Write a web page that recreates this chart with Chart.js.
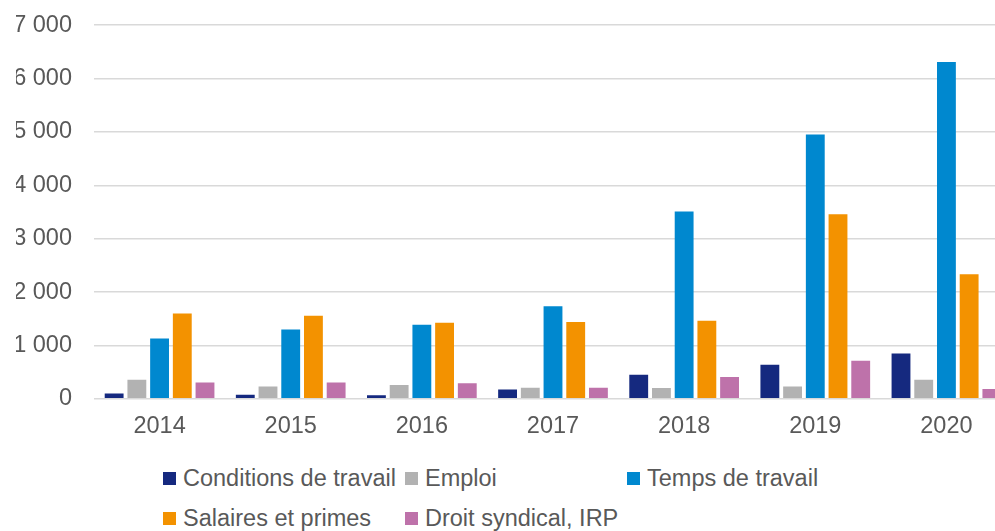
<!DOCTYPE html>
<html>
<head>
<meta charset="utf-8">
<script src="https://cdn.jsdelivr.net/npm/chart.js@4"></script>
<style>
html, body { margin: 0; padding: 0; overflow: hidden; background: #fff; }
#wrap { position: relative; width: 1012px; height: 531px; overflow: hidden; }
#graficoMotifs { display: block; margin-top: -11px; }
#legende {
	position: absolute; top: 458px; left: 163px;
	display: grid; grid-template-columns: 242px 222px auto; grid-auto-rows: 40px;
	font: 23.5px "Liberation Sans", Arial, sans-serif; color: #595959;
}
#legende div { display: flex; align-items: center; white-space: nowrap; }
#legende span { display: inline-block; width: 13px; height: 13px; margin-right: 7px; }
</style>
</head>
<body>
<div id="wrap">
	<canvas id="graficoMotifs" width="1012" height="458"></canvas>
	<div id="legende"></div>
</div>
<script>
var annees = ["2014", "2015", "2016", "2017", "2018", "2019", "2020"];
var conditions = [100, 75, 65, 175, 450, 640, 850];
var emploi = [355, 230, 260, 205, 200, 230, 355];
var tempsTravail = [1130, 1300, 1385, 1735, 3510, 4950, 6310];
var salaires = [1600, 1555, 1425, 1440, 1460, 3455, 2335];
var droitSyndical = [305, 305, 290, 205, 410, 715, 185];

var series = [
	{ label: "Conditions de travail", data: conditions, backgroundColor: "#15297f" },
	{ label: "Emploi", data: emploi, backgroundColor: "#b2b2b2" },
	{ label: "Temps de travail", data: tempsTravail, backgroundColor: "#0088cf" },
	{ label: "Salaires et primes", data: salaires, backgroundColor: "#f39200" },
	{ label: "Droit syndical, IRP", data: droitSyndical, backgroundColor: "#be72aa" }
];

Chart.defaults.font.family = '"Liberation Sans", Arial, sans-serif';
Chart.defaults.font.size = 23.5;
Chart.defaults.color = "#595959";

// separateur de milliers avec espace
function milliers(v) {
	return String(v).replace(/\B(?=(\d{3})+(?!\d))/g, " ");
}

var grafico = new Chart(document.getElementById("graficoMotifs"), {
	type: "bar",
	data: {
		labels: annees,
		datasets: series.map(function (s) {
			return {
				label: s.label,
				data: s.data,
				backgroundColor: s.backgroundColor,
				categoryPercentage: 0.866,
				barPercentage: 0.83
			};
		})
	},
	options: {
		responsive: false,
		animation: false,
		layout: { padding: { top: 0, left: 16, right: 0, bottom: 0 } },
		plugins: {
			legend: { display: false },
			tooltip: { enabled: false }
		},
		scales: {
			x: {
				grid: { display: false },
				border: { display: false },
				ticks: { padding: 6 }
			},
			y: {
				min: 0,
				max: 7000,
				afterFit: function (scale) { scale.width = 78; },
				grid: { color: "#d9d9d9", lineWidth: 1.5, drawTicks: false },
				border: { display: false },
				ticks: { stepSize: 1000, padding: 22, callback: function (v) { return milliers(v); } }
			}
		}
	}
});

// legende HTML a partir des datasets
var legende = document.getElementById("legende");
grafico.data.datasets.forEach(function (ds) {
	var item = document.createElement("div");
	var carre = document.createElement("span");
	carre.style.background = ds.backgroundColor;
	item.appendChild(carre);
	item.appendChild(document.createTextNode(ds.label));
	legende.appendChild(item);
});
</script>
</body>
</html>
